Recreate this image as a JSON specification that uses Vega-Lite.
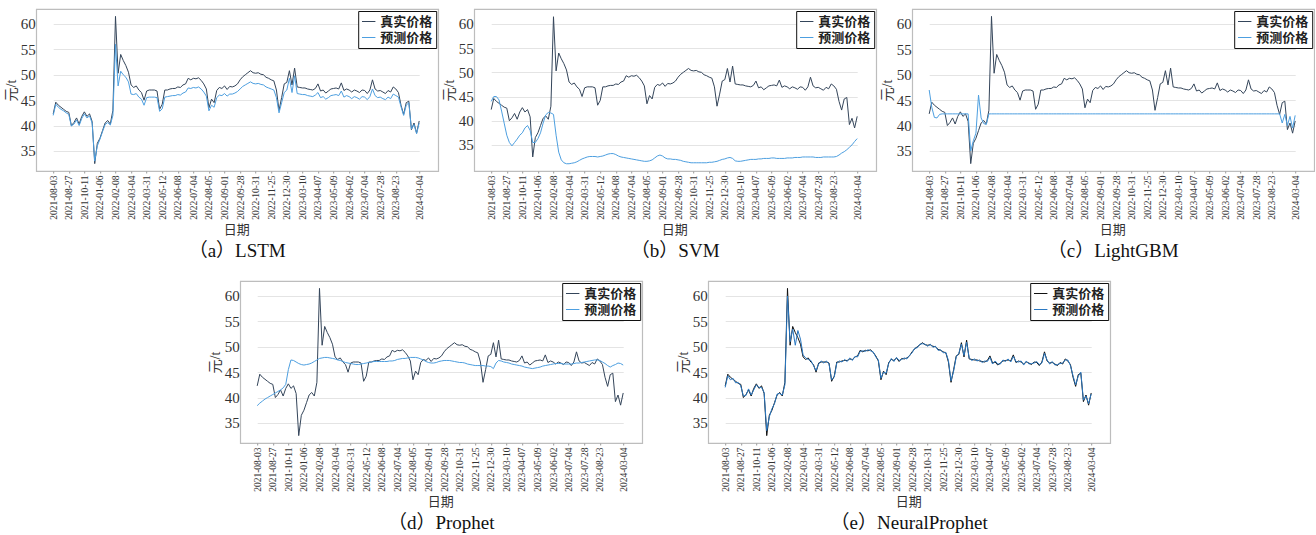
{
  "$schema": "https://vega.github.io/schema/vega-lite/v6.json",
  "background": "white",
  "padding": {"left": 3, "top": 8, "right": 0, "bottom": 0},
  "config": {
    "view": {"stroke": "#bdbdbd", "strokeWidth": 1.2},
    "line": {"strokeWidth": 1},
    "axisY": {"grid": true, "gridColor": "#e4e4e4", "gridWidth": 1, "domain": false, "ticks": false, "labelFont": "Liberation Serif", "labelFontSize": 15, "labelColor": "#333333", "labelPadding": 1, "titleFont": "Liberation Serif, Noto Sans CJK SC", "titleFontSize": 14, "titleFontWeight": "normal", "titleColor": "#333333", "titlePadding": 2},
    "axisX": {"grid": false, "domain": false, "ticks": true, "tickSize": 2, "tickColor": "#9a9a9a", "labelAngle": -90, "labelFont": "Liberation Serif", "labelFontSize": 9.5, "labelColor": "#333333", "labelPadding": 2, "titleFont": "Liberation Serif, Noto Sans CJK SC", "titleFontSize": 13, "titleFontWeight": "normal", "titleColor": "#333333", "titlePadding": 4},
    "legend": {"orient": "top-right", "offset": 2, "strokeColor": "#111111", "fillColor": "white", "padding": 3, "symbolType": "stroke", "symbolStrokeWidth": 1.5, "symbolSize": 180, "labelFont": "Liberation Serif, Noto Sans CJK SC", "labelFontSize": 13, "labelFontWeight": "bold", "labelColor": "#222222", "rowPadding": 1, "labelOffset": 4},
    "title": {"orient": "bottom", "anchor": "middle", "font": "Liberation Serif, Noto Sans CJK SC", "fontSize": 19, "fontWeight": "normal", "color": "#111111", "offset": 6}
  },
  "datasets": {
    "price": [
      {"date": "2021-08-03", "real": 42.3, "lstm": 42.0, "svm": 44.0, "lgbm": 47.0, "prophet": 38.4, "neural": 42.0},
      {"date": "2021-08-06", "real": 44.6, "lstm": 44.2, "svm": 45.0, "lgbm": 43.6, "prophet": 38.9, "neural": 44.3},
      {"date": "2021-08-11", "real": 44.0, "lstm": 43.6, "svm": 45.0, "lgbm": 41.6, "prophet": 39.3, "neural": 43.5},
      {"date": "2021-08-16", "real": 43.6, "lstm": 43.2, "svm": 44.3, "lgbm": 41.5, "prophet": 39.7, "neural": 43.8},
      {"date": "2021-08-19", "real": 43.2, "lstm": 42.9, "svm": 42.0, "lgbm": 42.2, "prophet": 40.0, "neural": 42.9},
      {"date": "2021-08-24", "real": 42.8, "lstm": 42.5, "svm": 39.5, "lgbm": 42.3, "prophet": 40.3, "neural": 43.0},
      {"date": "2021-08-27", "real": 42.6, "lstm": 42.2, "svm": 37.0, "lgbm": 42.3, "prophet": 40.6, "neural": 42.3},
      {"date": "2021-09-03", "real": 40.0, "lstm": 39.9, "svm": 35.5, "lgbm": 42.3, "prophet": 40.9, "neural": 40.3},
      {"date": "2021-09-10", "real": 40.6, "lstm": 40.3, "svm": 34.8, "lgbm": 42.3, "prophet": 41.2, "neural": 40.4},
      {"date": "2021-09-17", "real": 41.5, "lstm": 41.1, "svm": 35.5, "lgbm": 42.3, "prophet": 41.5, "neural": 41.7},
      {"date": "2021-09-24", "real": 40.3, "lstm": 40.0, "svm": 36.2, "lgbm": 42.3, "prophet": 41.9, "neural": 40.5},
      {"date": "2021-09-30", "real": 41.8, "lstm": 41.4, "svm": 37.0, "lgbm": 42.3, "prophet": 42.6, "neural": 41.5},
      {"date": "2021-10-11", "real": 42.7, "lstm": 42.3, "svm": 37.5, "lgbm": 42.3, "prophet": 45.5, "neural": 42.5},
      {"date": "2021-10-25", "real": 41.8, "lstm": 41.5, "svm": 38.5, "lgbm": 42.3, "prophet": 47.4, "neural": 42.0},
      {"date": "2021-11-08", "real": 42.3, "lstm": 41.9, "svm": 39.0, "lgbm": 42.3, "prophet": 47.3, "neural": 42.0},
      {"date": "2021-11-22", "real": 40.8, "lstm": 40.5, "svm": 38.0, "lgbm": 42.3, "prophet": 47.0, "neural": 41.0},
      {"date": "2021-12-06", "real": 32.5, "lstm": 33.0, "svm": 35.5, "lgbm": 35.0, "prophet": 46.7, "neural": 33.5},
      {"date": "2021-12-20", "real": 36.5, "lstm": 36.0, "svm": 35.5, "lgbm": 37.0, "prophet": 46.5, "neural": 36.2},
      {"date": "2022-01-06", "real": 37.5, "lstm": 37.3, "svm": 36.3, "lgbm": 38.5, "prophet": 46.4, "neural": 37.8},
      {"date": "2022-01-11", "real": 39.0, "lstm": 38.8, "svm": 37.5, "lgbm": 46.0, "prophet": 46.5, "neural": 38.8},
      {"date": "2022-01-14", "real": 40.5, "lstm": 40.2, "svm": 39.5, "lgbm": 41.5, "prophet": 46.6, "neural": 40.7},
      {"date": "2022-01-19", "real": 41.0, "lstm": 40.6, "svm": 41.2, "lgbm": 40.4, "prophet": 46.8, "neural": 40.8},
      {"date": "2022-01-24", "real": 40.3, "lstm": 40.1, "svm": 41.7, "lgbm": 40.2, "prophet": 47.1, "neural": 40.5},
      {"date": "2022-01-28", "real": 43.0, "lstm": 42.0, "svm": 41.6, "lgbm": 42.3, "prophet": 47.4, "neural": 42.5},
      {"date": "2022-02-08", "real": 61.5, "lstm": 56.0, "svm": 41.3, "lgbm": 42.3, "prophet": 47.7, "neural": 60.0},
      {"date": "2022-02-11", "real": 50.3, "lstm": 47.8, "svm": 37.0, "lgbm": 42.3, "prophet": 47.8, "neural": 51.0},
      {"date": "2022-02-16", "real": 54.0, "lstm": 50.7, "svm": 33.5, "lgbm": 42.3, "prophet": 47.9, "neural": 53.5},
      {"date": "2022-02-21", "real": 52.8, "lstm": 50.0, "svm": 31.9, "lgbm": 42.3, "prophet": 47.9, "neural": 50.3},
      {"date": "2022-02-24", "real": 51.8, "lstm": 49.5, "svm": 31.3, "lgbm": 42.3, "prophet": 47.8, "neural": 53.2},
      {"date": "2022-03-01", "real": 50.5, "lstm": 48.6, "svm": 31.1, "lgbm": 42.3, "prophet": 47.7, "neural": 51.5},
      {"date": "2022-03-04", "real": 48.0, "lstm": 46.2, "svm": 31.1, "lgbm": 42.3, "prophet": 47.6, "neural": 48.4},
      {"date": "2022-03-09", "real": 47.5, "lstm": 46.1, "svm": 31.2, "lgbm": 42.3, "prophet": 47.4, "neural": 47.8},
      {"date": "2022-03-14", "real": 47.8, "lstm": 46.3, "svm": 31.3, "lgbm": 42.3, "prophet": 47.3, "neural": 47.5},
      {"date": "2022-03-18", "real": 47.0, "lstm": 45.6, "svm": 31.5, "lgbm": 42.3, "prophet": 47.1, "neural": 47.3},
      {"date": "2022-03-23", "real": 46.5, "lstm": 45.2, "svm": 31.8, "lgbm": 42.3, "prophet": 46.9, "neural": 46.3},
      {"date": "2022-03-28", "real": 45.0, "lstm": 44.0, "svm": 32.1, "lgbm": 42.3, "prophet": 46.8, "neural": 45.3},
      {"date": "2022-03-31", "real": 46.8, "lstm": 45.5, "svm": 32.3, "lgbm": 42.3, "prophet": 46.7, "neural": 46.6},
      {"date": "2022-04-08", "real": 47.0, "lstm": 45.6, "svm": 32.5, "lgbm": 42.3, "prophet": 46.6, "neural": 47.2},
      {"date": "2022-04-15", "real": 47.0, "lstm": 45.6, "svm": 32.6, "lgbm": 42.3, "prophet": 46.5, "neural": 46.8},
      {"date": "2022-04-22", "real": 47.0, "lstm": 45.6, "svm": 32.6, "lgbm": 42.3, "prophet": 46.5, "neural": 47.2},
      {"date": "2022-04-29", "real": 46.8, "lstm": 45.5, "svm": 32.6, "lgbm": 42.3, "prophet": 46.6, "neural": 46.6},
      {"date": "2022-05-06", "real": 43.2, "lstm": 42.8, "svm": 32.5, "lgbm": 42.3, "prophet": 46.7, "neural": 43.5},
      {"date": "2022-05-12", "real": 44.2, "lstm": 43.3, "svm": 32.6, "lgbm": 42.3, "prophet": 46.8, "neural": 44.0},
      {"date": "2022-05-17", "real": 47.0, "lstm": 45.6, "svm": 32.7, "lgbm": 42.3, "prophet": 46.9, "neural": 46.8},
      {"date": "2022-05-20", "real": 47.0, "lstm": 45.7, "svm": 32.9, "lgbm": 42.3, "prophet": 47.0, "neural": 47.2},
      {"date": "2022-05-25", "real": 47.2, "lstm": 45.8, "svm": 33.1, "lgbm": 42.3, "prophet": 47.1, "neural": 47.0},
      {"date": "2022-05-30", "real": 47.3, "lstm": 45.9, "svm": 33.2, "lgbm": 42.3, "prophet": 47.1, "neural": 47.5},
      {"date": "2022-06-02", "real": 47.3, "lstm": 45.9, "svm": 33.2, "lgbm": 42.3, "prophet": 47.1, "neural": 47.1},
      {"date": "2022-06-08", "real": 47.6, "lstm": 46.1, "svm": 33.0, "lgbm": 42.3, "prophet": 47.1, "neural": 47.8},
      {"date": "2022-06-13", "real": 47.5, "lstm": 46.0, "svm": 32.7, "lgbm": 42.3, "prophet": 47.1, "neural": 47.3},
      {"date": "2022-06-16", "real": 48.0, "lstm": 46.4, "svm": 32.5, "lgbm": 42.3, "prophet": 47.1, "neural": 48.1},
      {"date": "2022-06-21", "real": 48.2, "lstm": 46.6, "svm": 32.4, "lgbm": 42.3, "prophet": 47.2, "neural": 48.0},
      {"date": "2022-06-24", "real": 49.3, "lstm": 47.4, "svm": 32.3, "lgbm": 42.3, "prophet": 47.2, "neural": 49.1},
      {"date": "2022-06-29", "real": 49.0, "lstm": 47.3, "svm": 32.2, "lgbm": 42.3, "prophet": 47.3, "neural": 49.2},
      {"date": "2022-07-04", "real": 49.3, "lstm": 47.5, "svm": 32.1, "lgbm": 42.3, "prophet": 47.5, "neural": 49.1},
      {"date": "2022-07-08", "real": 49.2, "lstm": 47.4, "svm": 32.0, "lgbm": 42.3, "prophet": 47.6, "neural": 49.4},
      {"date": "2022-07-13", "real": 49.4, "lstm": 47.6, "svm": 31.9, "lgbm": 42.3, "prophet": 47.7, "neural": 49.2},
      {"date": "2022-07-19", "real": 48.9, "lstm": 47.2, "svm": 31.8, "lgbm": 42.3, "prophet": 47.7, "neural": 49.0},
      {"date": "2022-07-25", "real": 48.2, "lstm": 46.6, "svm": 31.7, "lgbm": 42.3, "prophet": 47.8, "neural": 48.0},
      {"date": "2022-07-29", "real": 47.2, "lstm": 45.8, "svm": 31.6, "lgbm": 42.3, "prophet": 47.9, "neural": 47.4},
      {"date": "2022-08-05", "real": 43.5, "lstm": 42.9, "svm": 31.6, "lgbm": 42.3, "prophet": 47.9, "neural": 43.8},
      {"date": "2022-08-10", "real": 45.2, "lstm": 44.0, "svm": 31.7, "lgbm": 42.3, "prophet": 47.9, "neural": 45.0},
      {"date": "2022-08-15", "real": 44.5, "lstm": 43.6, "svm": 31.9, "lgbm": 42.3, "prophet": 47.8, "neural": 44.8},
      {"date": "2022-08-18", "real": 46.9, "lstm": 45.5, "svm": 32.3, "lgbm": 42.3, "prophet": 47.6, "neural": 46.7},
      {"date": "2022-08-23", "real": 47.5, "lstm": 46.0, "svm": 32.7, "lgbm": 42.3, "prophet": 47.4, "neural": 47.7},
      {"date": "2022-08-26", "real": 47.3, "lstm": 45.9, "svm": 32.9, "lgbm": 42.3, "prophet": 47.1, "neural": 47.1},
      {"date": "2022-09-01", "real": 47.8, "lstm": 46.3, "svm": 32.7, "lgbm": 42.3, "prophet": 46.9, "neural": 47.9},
      {"date": "2022-09-06", "real": 47.1, "lstm": 45.8, "svm": 32.3, "lgbm": 42.3, "prophet": 46.8, "neural": 47.3},
      {"date": "2022-09-09", "real": 47.7, "lstm": 46.2, "svm": 32.1, "lgbm": 42.3, "prophet": 46.8, "neural": 47.5},
      {"date": "2022-09-15", "real": 47.6, "lstm": 46.2, "svm": 32.1, "lgbm": 42.3, "prophet": 46.9, "neural": 47.8},
      {"date": "2022-09-20", "real": 47.8, "lstm": 46.4, "svm": 32.0, "lgbm": 42.3, "prophet": 47.1, "neural": 47.6},
      {"date": "2022-09-23", "real": 48.2, "lstm": 46.7, "svm": 32.0, "lgbm": 42.3, "prophet": 47.2, "neural": 48.3},
      {"date": "2022-09-28", "real": 49.0, "lstm": 47.2, "svm": 31.9, "lgbm": 42.3, "prophet": 47.3, "neural": 48.8},
      {"date": "2022-10-11", "real": 49.6, "lstm": 47.7, "svm": 31.8, "lgbm": 42.3, "prophet": 47.3, "neural": 49.7},
      {"date": "2022-10-14", "real": 50.0, "lstm": 48.0, "svm": 31.6, "lgbm": 42.3, "prophet": 47.3, "neural": 49.8},
      {"date": "2022-10-19", "real": 50.4, "lstm": 48.3, "svm": 31.5, "lgbm": 42.3, "prophet": 47.2, "neural": 50.5},
      {"date": "2022-10-24", "real": 50.8, "lstm": 48.6, "svm": 31.4, "lgbm": 42.3, "prophet": 47.1, "neural": 50.6},
      {"date": "2022-10-27", "real": 50.4, "lstm": 48.3, "svm": 31.3, "lgbm": 42.3, "prophet": 47.0, "neural": 50.5},
      {"date": "2022-10-31", "real": 50.3, "lstm": 48.2, "svm": 31.3, "lgbm": 42.3, "prophet": 46.9, "neural": 50.1},
      {"date": "2022-11-04", "real": 50.4, "lstm": 48.3, "svm": 31.3, "lgbm": 42.3, "prophet": 46.9, "neural": 50.5},
      {"date": "2022-11-09", "real": 50.1, "lstm": 48.1, "svm": 31.3, "lgbm": 42.3, "prophet": 46.8, "neural": 49.9},
      {"date": "2022-11-14", "real": 50.0, "lstm": 48.0, "svm": 31.3, "lgbm": 42.3, "prophet": 46.6, "neural": 50.1},
      {"date": "2022-11-17", "real": 49.5, "lstm": 47.6, "svm": 31.3, "lgbm": 42.3, "prophet": 46.5, "neural": 49.3},
      {"date": "2022-11-22", "real": 49.3, "lstm": 47.4, "svm": 31.3, "lgbm": 42.3, "prophet": 46.4, "neural": 49.4},
      {"date": "2022-11-25", "real": 49.0, "lstm": 47.2, "svm": 31.4, "lgbm": 42.3, "prophet": 46.3, "neural": 48.8},
      {"date": "2022-12-01", "real": 48.8, "lstm": 47.0, "svm": 31.4, "lgbm": 42.3, "prophet": 46.3, "neural": 48.9},
      {"date": "2022-12-07", "real": 47.0, "lstm": 45.5, "svm": 31.5, "lgbm": 42.3, "prophet": 46.3, "neural": 47.3},
      {"date": "2022-12-13", "real": 43.0, "lstm": 42.5, "svm": 31.6, "lgbm": 42.3, "prophet": 46.3, "neural": 43.3},
      {"date": "2022-12-19", "real": 45.5, "lstm": 44.5, "svm": 31.8, "lgbm": 42.3, "prophet": 46.2, "neural": 45.2},
      {"date": "2022-12-23", "real": 48.2, "lstm": 46.5, "svm": 32.0, "lgbm": 42.3, "prophet": 46.2, "neural": 48.0},
      {"date": "2022-12-30", "real": 48.5, "lstm": 47.0, "svm": 32.1, "lgbm": 42.3, "prophet": 46.1, "neural": 48.7},
      {"date": "2023-01-11", "real": 50.8, "lstm": 49.3, "svm": 32.3, "lgbm": 42.3, "prophet": 45.7, "neural": 50.5},
      {"date": "2023-01-20", "real": 48.0, "lstm": 46.5, "svm": 32.4, "lgbm": 42.3, "prophet": 46.8, "neural": 48.3},
      {"date": "2023-02-06", "real": 51.3, "lstm": 49.8, "svm": 32.2, "lgbm": 42.3, "prophet": 47.3, "neural": 50.9},
      {"date": "2023-02-17", "real": 47.6, "lstm": 46.3, "svm": 31.7, "lgbm": 42.3, "prophet": 47.2, "neural": 47.8},
      {"date": "2023-02-28", "real": 47.5, "lstm": 46.2, "svm": 31.6, "lgbm": 42.3, "prophet": 47.0, "neural": 47.3},
      {"date": "2023-03-10", "real": 47.4, "lstm": 46.1, "svm": 31.6, "lgbm": 42.3, "prophet": 46.9, "neural": 47.6},
      {"date": "2023-03-15", "real": 47.4, "lstm": 46.1, "svm": 31.7, "lgbm": 42.3, "prophet": 46.8, "neural": 47.2},
      {"date": "2023-03-20", "real": 47.2, "lstm": 45.9, "svm": 31.8, "lgbm": 42.3, "prophet": 46.6, "neural": 47.4},
      {"date": "2023-03-24", "real": 47.1, "lstm": 45.8, "svm": 31.9, "lgbm": 42.3, "prophet": 46.5, "neural": 46.9},
      {"date": "2023-03-29", "real": 47.0, "lstm": 45.7, "svm": 32.0, "lgbm": 42.3, "prophet": 46.4, "neural": 47.2},
      {"date": "2023-04-03", "real": 47.3, "lstm": 46.0, "svm": 32.0, "lgbm": 42.3, "prophet": 46.3, "neural": 47.1},
      {"date": "2023-04-07", "real": 48.2, "lstm": 46.5, "svm": 32.0, "lgbm": 42.3, "prophet": 46.2, "neural": 47.9},
      {"date": "2023-04-12", "real": 46.8, "lstm": 45.5, "svm": 32.1, "lgbm": 42.3, "prophet": 46.0, "neural": 46.6},
      {"date": "2023-04-17", "real": 47.0, "lstm": 45.7, "svm": 32.1, "lgbm": 42.3, "prophet": 45.9, "neural": 47.2},
      {"date": "2023-04-21", "real": 46.4, "lstm": 45.2, "svm": 32.2, "lgbm": 42.3, "prophet": 45.8, "neural": 46.6},
      {"date": "2023-04-26", "real": 46.8, "lstm": 45.5, "svm": 32.2, "lgbm": 42.3, "prophet": 45.7, "neural": 46.6},
      {"date": "2023-05-04", "real": 47.2, "lstm": 45.9, "svm": 32.2, "lgbm": 42.3, "prophet": 45.8, "neural": 47.4},
      {"date": "2023-05-09", "real": 47.3, "lstm": 46.0, "svm": 32.3, "lgbm": 42.3, "prophet": 45.9, "neural": 47.1},
      {"date": "2023-05-12", "real": 47.4, "lstm": 46.1, "svm": 32.3, "lgbm": 42.3, "prophet": 46.0, "neural": 47.6},
      {"date": "2023-05-17", "real": 47.2, "lstm": 45.9, "svm": 32.2, "lgbm": 42.3, "prophet": 46.2, "neural": 47.0},
      {"date": "2023-05-22", "real": 48.4, "lstm": 46.8, "svm": 32.2, "lgbm": 42.3, "prophet": 46.3, "neural": 48.1},
      {"date": "2023-05-25", "real": 46.9, "lstm": 45.6, "svm": 32.2, "lgbm": 42.3, "prophet": 46.4, "neural": 47.1},
      {"date": "2023-05-30", "real": 47.2, "lstm": 45.9, "svm": 32.2, "lgbm": 42.3, "prophet": 46.5, "neural": 47.0},
      {"date": "2023-06-02", "real": 47.0, "lstm": 45.7, "svm": 32.3, "lgbm": 42.3, "prophet": 46.6, "neural": 47.2},
      {"date": "2023-06-07", "real": 46.6, "lstm": 45.3, "svm": 32.3, "lgbm": 42.3, "prophet": 46.7, "neural": 46.4},
      {"date": "2023-06-12", "real": 47.0, "lstm": 45.7, "svm": 32.3, "lgbm": 42.3, "prophet": 46.7, "neural": 47.2},
      {"date": "2023-06-16", "real": 46.8, "lstm": 45.5, "svm": 32.4, "lgbm": 42.3, "prophet": 46.7, "neural": 46.6},
      {"date": "2023-06-21", "real": 46.5, "lstm": 45.2, "svm": 32.4, "lgbm": 42.3, "prophet": 46.6, "neural": 46.7},
      {"date": "2023-06-28", "real": 47.0, "lstm": 45.7, "svm": 32.4, "lgbm": 42.3, "prophet": 46.6, "neural": 46.8},
      {"date": "2023-07-04", "real": 46.9, "lstm": 45.6, "svm": 32.5, "lgbm": 42.3, "prophet": 46.6, "neural": 47.1},
      {"date": "2023-07-07", "real": 46.3, "lstm": 45.1, "svm": 32.5, "lgbm": 42.3, "prophet": 46.6, "neural": 46.5},
      {"date": "2023-07-12", "real": 47.0, "lstm": 45.7, "svm": 32.5, "lgbm": 42.3, "prophet": 46.7, "neural": 46.8},
      {"date": "2023-07-17", "real": 49.0, "lstm": 47.2, "svm": 32.5, "lgbm": 42.3, "prophet": 46.8, "neural": 48.7},
      {"date": "2023-07-20", "real": 47.2, "lstm": 45.9, "svm": 32.5, "lgbm": 42.3, "prophet": 46.8, "neural": 47.4},
      {"date": "2023-07-25", "real": 46.8, "lstm": 45.5, "svm": 32.4, "lgbm": 42.3, "prophet": 46.9, "neural": 46.6},
      {"date": "2023-07-28", "real": 46.9, "lstm": 45.6, "svm": 32.4, "lgbm": 42.3, "prophet": 47.0, "neural": 47.1},
      {"date": "2023-08-02", "real": 46.6, "lstm": 45.3, "svm": 32.4, "lgbm": 42.3, "prophet": 47.1, "neural": 46.4},
      {"date": "2023-08-07", "real": 46.3, "lstm": 45.1, "svm": 32.5, "lgbm": 42.3, "prophet": 47.2, "neural": 46.5},
      {"date": "2023-08-10", "real": 46.9, "lstm": 45.6, "svm": 32.5, "lgbm": 42.3, "prophet": 47.3, "neural": 46.7},
      {"date": "2023-08-15", "real": 46.6, "lstm": 45.3, "svm": 32.5, "lgbm": 42.3, "prophet": 47.4, "neural": 46.8},
      {"date": "2023-08-18", "real": 47.6, "lstm": 46.2, "svm": 32.5, "lgbm": 42.3, "prophet": 47.4, "neural": 47.4},
      {"date": "2023-08-23", "real": 47.2, "lstm": 45.9, "svm": 32.5, "lgbm": 42.3, "prophet": 47.3, "neural": 47.4},
      {"date": "2023-09-15", "real": 46.5, "lstm": 45.6, "svm": 32.6, "lgbm": 42.3, "prophet": 47.0, "neural": 46.3},
      {"date": "2023-10-18", "real": 44.0, "lstm": 43.7, "svm": 32.9, "lgbm": 42.3, "prophet": 46.7, "neural": 44.3},
      {"date": "2023-11-10", "real": 42.2, "lstm": 42.0, "svm": 33.3, "lgbm": 42.3, "prophet": 46.3, "neural": 42.5},
      {"date": "2023-12-01", "real": 44.5, "lstm": 44.0, "svm": 33.6, "lgbm": 40.5, "prophet": 46.0, "neural": 44.2},
      {"date": "2023-12-22", "real": 44.8, "lstm": 44.5, "svm": 34.0, "lgbm": 42.2, "prophet": 46.3, "neural": 45.0},
      {"date": "2024-01-12", "real": 39.2, "lstm": 39.3, "svm": 34.5, "lgbm": 40.0, "prophet": 46.5, "neural": 39.5},
      {"date": "2024-01-31", "real": 40.5, "lstm": 40.2, "svm": 35.0, "lgbm": 41.8, "prophet": 46.8, "neural": 40.3},
      {"date": "2024-02-20", "real": 38.5, "lstm": 38.4, "svm": 35.7, "lgbm": 39.5, "prophet": 46.7, "neural": 38.8},
      {"date": "2024-03-04", "real": 40.9, "lstm": 40.5, "svm": 36.3, "lgbm": 42.0, "prophet": 46.4, "neural": 40.7}
    ]
  },
  "center": true,
  "spacing": 18,
  "resolve": {"scale": {"x": "independent", "y": "independent", "color": "independent"}, "axis": {"x": "independent", "y": "independent"}, "legend": {"color": "independent"}},
  "vconcat": [
    {
      "spacing": 2,
      "resolve": {"scale": {"x": "independent", "y": "independent", "color": "independent"}, "axis": {"x": "independent", "y": "independent"}, "legend": {"color": "independent"}},
      "hconcat": [
        {
          "width": 402, "height": 162,
          "data": {"name": "price"},
          "transform": [{"fold": ["real", "lstm"], "as": ["series", "value"]}],
          "mark": {"type": "line", "strokeWidth": 1},
          "encoding": {
            "x": {"field": "date", "type": "ordinal", "scale": {"type": "point", "padding": 0, "range": [17, 383]}, "axis": {"title": "日期", "values": ["2021-08-03","2021-08-27","2021-10-11","2022-01-06","2022-02-08","2022-03-04","2022-03-31","2022-05-12","2022-06-08","2022-07-04","2022-08-05","2022-09-01","2022-09-28","2022-10-31","2022-11-25","2022-12-30","2023-03-10","2023-04-07","2023-05-09","2023-06-02","2023-07-04","2023-07-28","2023-08-23","2024-03-04"]}},
            "y": {"field": "value", "type": "quantitative", "scale": {"domain": [31.05, 62.95], "nice": false, "zero": false}, "axis": {"title": "元/t", "values": [35, 40, 45, 50, 55, 60]}},
            "color": {"field": "series", "type": "nominal", "scale": {"domain": ["real", "lstm"], "range": ["#34455a", "#4d9fe0"]}, "legend": {"title": null, "labelExpr": "datum.label == 'real' ? '真实价格' : '预测价格'"}}
          },
          "title": {"text": "（a）LSTM"}
        },
        {
          "width": 402, "height": 162,
          "data": {"name": "price"},
          "transform": [{"fold": ["real", "svm"], "as": ["series", "value"]}],
          "mark": {"type": "line", "strokeWidth": 1},
          "encoding": {
            "x": {"field": "date", "type": "ordinal", "scale": {"type": "point", "padding": 0, "range": [17, 383]}, "axis": {"title": "日期", "values": ["2021-08-03","2021-08-27","2021-10-11","2022-01-06","2022-02-08","2022-03-04","2022-03-31","2022-05-12","2022-06-08","2022-07-04","2022-08-05","2022-09-01","2022-09-28","2022-10-31","2022-11-25","2022-12-30","2023-03-10","2023-04-07","2023-05-09","2023-06-02","2023-07-04","2023-07-28","2023-08-23","2024-03-04"]}},
            "y": {"field": "value", "type": "quantitative", "scale": {"domain": [29.6, 63.1], "nice": false, "zero": false}, "axis": {"title": "元/t", "values": [35, 40, 45, 50, 55, 60]}},
            "color": {"field": "series", "type": "nominal", "scale": {"domain": ["real", "svm"], "range": ["#34455a", "#4d9fe0"]}, "legend": {"title": null, "labelExpr": "datum.label == 'real' ? '真实价格' : '预测价格'"}}
          },
          "title": {"text": "（b）SVM"}
        },
        {
          "width": 402, "height": 162,
          "data": {"name": "price"},
          "transform": [{"fold": ["real", "lgbm"], "as": ["series", "value"]}],
          "mark": {"type": "line", "strokeWidth": 1},
          "encoding": {
            "x": {"field": "date", "type": "ordinal", "scale": {"type": "point", "padding": 0, "range": [17, 383]}, "axis": {"title": "日期", "values": ["2021-08-03","2021-08-27","2021-10-11","2022-01-06","2022-02-08","2022-03-04","2022-03-31","2022-05-12","2022-06-08","2022-07-04","2022-08-05","2022-09-01","2022-09-28","2022-10-31","2022-11-25","2022-12-30","2023-03-10","2023-04-07","2023-05-09","2023-06-02","2023-07-04","2023-07-28","2023-08-23","2024-03-04"]}},
            "y": {"field": "value", "type": "quantitative", "scale": {"domain": [31.05, 62.95], "nice": false, "zero": false}, "axis": {"title": "元/t", "values": [35, 40, 45, 50, 55, 60]}},
            "color": {"field": "series", "type": "nominal", "scale": {"domain": ["real", "lgbm"], "range": ["#34455a", "#4d9fe0"]}, "legend": {"title": null, "labelExpr": "datum.label == 'real' ? '真实价格' : '预测价格'"}}
          },
          "title": {"text": "（c）LightGBM"}
        }
      ]
    },
    {
      "spacing": 32,
      "resolve": {"scale": {"x": "independent", "y": "independent", "color": "independent"}, "axis": {"x": "independent", "y": "independent"}, "legend": {"color": "independent"}},
      "hconcat": [
        {
          "width": 402, "height": 162,
          "data": {"name": "price"},
          "transform": [{"fold": ["real", "prophet"], "as": ["series", "value"]}],
          "mark": {"type": "line", "strokeWidth": 1},
          "encoding": {
            "x": {"field": "date", "type": "ordinal", "scale": {"type": "point", "padding": 0, "range": [17, 383]}, "axis": {"title": "日期", "values": ["2021-08-03","2021-08-27","2021-10-11","2022-01-06","2022-02-08","2022-03-04","2022-03-31","2022-05-12","2022-06-08","2022-07-04","2022-08-05","2022-09-01","2022-09-28","2022-10-31","2022-11-25","2022-12-30","2023-03-10","2023-04-07","2023-05-09","2023-06-02","2023-07-04","2023-07-28","2023-08-23","2024-03-04"]}},
            "y": {"field": "value", "type": "quantitative", "scale": {"domain": [31.05, 62.95], "nice": false, "zero": false}, "axis": {"title": "元/t", "values": [35, 40, 45, 50, 55, 60]}},
            "color": {"field": "series", "type": "nominal", "scale": {"domain": ["real", "prophet"], "range": ["#34455a", "#4d9fe0"]}, "legend": {"title": null, "labelExpr": "datum.label == 'real' ? '真实价格' : '预测价格'"}}
          },
          "title": {"text": "（d）Prophet"}
        },
        {
          "width": 402, "height": 162,
          "data": {"name": "price"},
          "transform": [{"fold": ["real", "neural"], "as": ["series", "value"]}],
          "mark": {"type": "line", "strokeWidth": 1},
          "encoding": {
            "x": {"field": "date", "type": "ordinal", "scale": {"type": "point", "padding": 0, "range": [17, 383]}, "axis": {"title": "日期", "values": ["2021-08-03","2021-08-27","2021-10-11","2022-01-06","2022-02-08","2022-03-04","2022-03-31","2022-05-12","2022-06-08","2022-07-04","2022-08-05","2022-09-01","2022-09-28","2022-10-31","2022-11-25","2022-12-30","2023-03-10","2023-04-07","2023-05-09","2023-06-02","2023-07-04","2023-07-28","2023-08-23","2024-03-04"]}},
            "y": {"field": "value", "type": "quantitative", "scale": {"domain": [31.05, 62.95], "nice": false, "zero": false}, "axis": {"title": "元/t", "values": [35, 40, 45, 50, 55, 60]}},
            "color": {"field": "series", "type": "nominal", "scale": {"domain": ["real", "neural"], "range": ["#111111", "#2a78c2"]}, "legend": {"title": null, "labelExpr": "datum.label == 'real' ? '真实价格' : '预测价格'"}}
          },
          "title": {"text": "（e）NeuralProphet"}
        }
      ]
    }
  ]
}
